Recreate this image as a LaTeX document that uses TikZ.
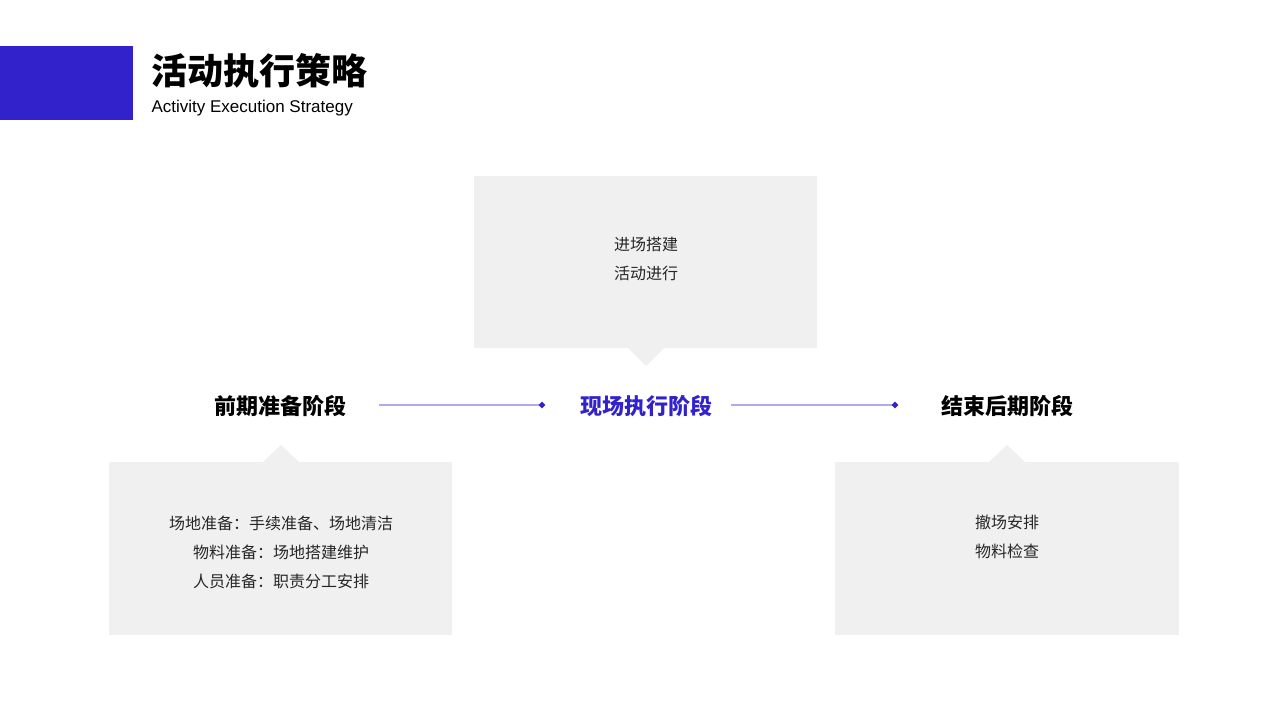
\documentclass[tikz,border=0pt]{standalone}
\usepackage{fontspec}
\usetikzlibrary{shapes.geometric}
\setmainfont{Liberation Sans}
\newfontfamily\cjk{Noto Sans CJK SC}
\definecolor{accent}{HTML}{3222CC}
\definecolor{boxfill}{HTML}{F0F0F0}
\definecolor{linec}{HTML}{B3AAEE}
\begin{document}
\begin{tikzpicture}[x=1pt,y=-1pt,
  boxtext/.style={font=\cjk\fontsize{16}{29}\selectfont,align=center,text=black!85},
  stage/.style={font=\cjk\bfseries\fontsize{22}{26}\selectfont},
  conn/.style={draw=linec,line width=1.2pt},
  dot/.style={fill=accent,diamond,inner sep=0pt,minimum size=7pt}]
\useasboundingbox (0,0) rectangle (1280,720);
\fill[white] (0,0) rectangle (1280,720);
\fill[accent] (0,46) rectangle (133,120);
\node[anchor=west,font=\cjk\bfseries\fontsize{36}{40}\selectfont] (title) at (148,71) {活动执行策略};
\node[anchor=west,font=\fontsize{17}{20}\selectfont] (sub) at (148,108) {Activity Execution Strategy};
% boxes
\fill[boxfill] (474,176) rectangle (817,348);
\fill[boxfill] (628,348) -- (664,348) -- (646,366) -- cycle;
\fill[boxfill] (109,462) rectangle (452,635);
\fill[boxfill] (263,462) -- (299,462) -- (281,445) -- cycle;
\fill[boxfill] (835,462) rectangle (1179,635);
\fill[boxfill] (989,462) -- (1025,462) -- (1007,445) -- cycle;
\node[boxtext] (t2) at (646,259) {进场搭建\\活动进行};
\node[boxtext] (t1) at (281,552) {场地准备：手续准备、场地清洁\\物料准备：场地搭建维护\\人员准备：职责分工安排};
\node[boxtext] (t3) at (1007,537) {撤场安排\\物料检查};
% stages
\node[stage] (s1) at (280,406) {前期准备阶段};
\node[stage,text=accent] (s2) at (646,406) {现场执行阶段};
\node[stage] (s3) at (1007,406) {结束后期阶段};
\coordinate (a1) at (379,405); \coordinate (b1) at (542,405);
\coordinate (a2) at (731,405); \coordinate (b2) at (895,405);
\draw[conn] (a1) -- (b1); \node[dot] (d1) at (b1) {};
\draw[conn] (a2) -- (b2); \node[dot] (d2) at (b2) {};
\end{tikzpicture}
\end{document}
